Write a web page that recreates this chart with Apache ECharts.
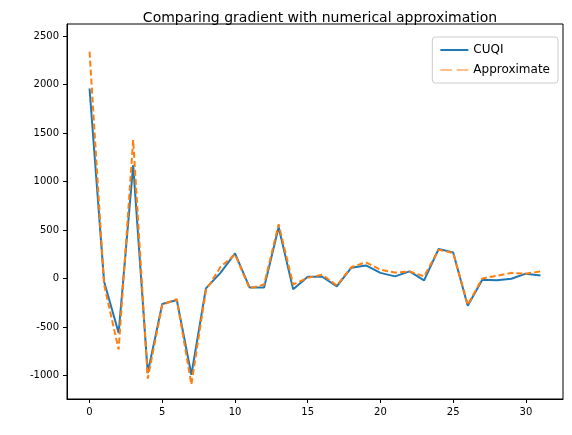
<!DOCTYPE html>
<html><head><meta charset="utf-8">
<script src="https://cdn.jsdelivr.net/npm/echarts@6/dist/echarts.min.js"></script>
<style>html,body{margin:0;padding:0;background:#fff}#c{width:572px;height:435px}</style>
</head><body><div id="c"></div>
<script>
var cuqi = [1960, -30, -560, 1170, -970, -260, -220, -990, -100, 60, 260, -90, -90, 530, -110, 20, 20, -80, 113, 137, 60, 24, 75, -17, 306, 271, -278, -10, -15, 0, 52, 34];
var approx = [2340, -60, -730, 1430, -1030, -270, -210, -1090, -120, 120, 250, -100, -60, 560, -60, 10, 40, -70, 120, 168, 93, 63, 75, 24, 299, 265, -270, 3, 30, 60, 52, 75];
var xTicks = [0, 5, 10, 15, 20, 25, 30];
var yTicks = [-1000, -500, 0, 500, 1000, 1500, 2000, 2500];

function pairs(arr) { return arr.map(function (v, i) { return [i, v]; }); }

var font = 'DejaVu Sans';
var chart = echarts.init(document.getElementById('c'));
chart.setOption({
  animation: false,
  title: { text: 'Comparing gradient with numerical approximation', left: 315, top: 6, textAlign: 'center',
    textStyle: { fontFamily: font, fontSize: 14, fontWeight: 'normal', color: '#000' } },
  legend: {
    right: 14, top: 37, orient: 'vertical', itemWidth: 28, itemHeight: 2, itemGap: 8,
    borderColor: '#ccc', borderWidth: 1, borderRadius: 3, padding: [7, 8, 7, 8],
    textStyle: { fontFamily: font, fontSize: 12, color: '#000' },
    data: [{ name: 'CUQI', icon: 'rect' }, { name: 'Approximate', icon: 'path://M0,0h10v1h-10zM14,0h10v1h-10z' }]
  },
  grid: { left: 67, right: 9, top: 24, bottom: 36 },
  xAxis: {
    type: 'value', min: -1.55, max: 32.55,
    axisLine: { onZero: false, lineStyle: { color: '#000' } },
    axisTick: { show: true, customValues: xTicks, length: 4, lineStyle: { color: '#000' } },
    axisLabel: { customValues: xTicks, fontFamily: font, fontSize: 10, color: '#000' },
    splitLine: { show: false }
  },
  yAxis: {
    type: 'value', min: -1240, max: 2625,
    axisLine: { show: true, onZero: false, lineStyle: { color: '#000' } },
    axisTick: { show: true, customValues: yTicks, length: 4, lineStyle: { color: '#000' } },
    axisLabel: { customValues: yTicks, fontFamily: font, fontSize: 10, color: '#000',
      formatter: function (v) { return String(v); } },
    splitLine: { show: false }
  },
  series: [
    { name: 'CUQI', type: 'line', data: pairs(cuqi), symbol: 'none', color: '#1f77b4',
      lineStyle: { width: 2, color: '#1f77b4' } },
    { name: 'Approximate', type: 'line', data: pairs(approx), symbol: 'none', color: '#ff7f0e',
      lineStyle: { width: 2, color: '#ff7f0e', type: [6, 3] } }
  ]
});
// right and top frame
chart.setOption({ graphic: [{ type: 'rect', shape: { x: 67, y: 24, width: 496, height: 375 },
  style: { fill: 'none', stroke: '#000', lineWidth: 1 }, silent: true }] });
</script></body></html>
